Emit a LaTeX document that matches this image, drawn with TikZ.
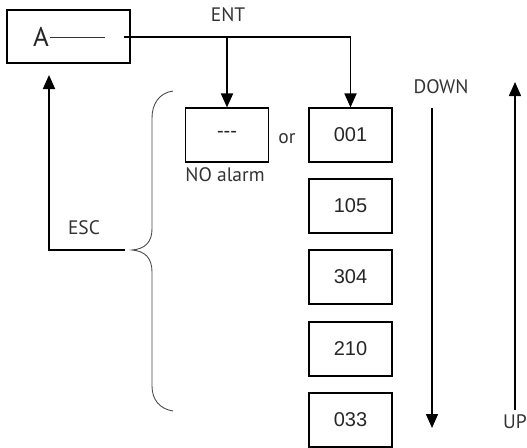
\documentclass[tikz,border=0pt]{standalone}
\usepackage{fontspec}
\setmainfont{PT Sans}
\newfontfamily\numfont{Liberation Sans}
\usetikzlibrary{arrows.meta}
\tikzset{
  box/.style={draw=black, line width=1.1pt, minimum width=83pt, minimum height=54pt, inner sep=0pt, text=black!85},
  numbox/.style={box, font=\numfont\fontsize{20}{22}\selectfont},
  lbl/.style={font=\fontsize{19.5}{21}\selectfont, text=black!80, inner sep=0pt},
  conn/.style={line width=1.8pt},
  arr/.style={conn, -{Triangle[width=12pt,length=14pt]}},
  brace/.style={draw=black!70, line width=0.9pt}
}
\begin{document}
\begin{tikzpicture}[x=1pt,y=-1pt]
\useasboundingbox (0,0) rectangle (527,447);
% box A
\node[box, minimum width=123pt, minimum height=53pt] (a) at (68.5,36.5) {};
\node[font=\fontsize{27}{29}\selectfont, text=black!85, inner sep=0pt] (atext) at (41,37) {A};
\coordinate (aline1) at (50,37);
\coordinate (aline2) at (105,37);
\draw[line width=0.9pt, black!80] (aline1) -- (aline2);
% boxes
\node[box] (none) at (227,135) {};
\node[font=\numfont\fontsize{20}{22}\selectfont, text=black!85, inner sep=0pt] (dashes) at (227,134) {---};
\node[numbox] (b001) at (350.5,135) {001};
\node[numbox] (b105) at (350.5,206) {105};
\node[numbox] (b304) at (350.5,277) {304};
\node[numbox] (b210) at (350.5,349) {210};
\node[numbox] (b033) at (350.5,420) {033};
% labels
\node[lbl] (ent) at (228,15) {ENT};
\node[lbl] (or) at (287,139) {or};
\node[lbl] (noalarm) at (225,175) {NO alarm};
\node[lbl] (esc) at (84,228) {ESC};
\node[lbl] (down) at (441,87) {DOWN};
\node[lbl] (up) at (515,422) {UP};
% ENT connectors
\coordinate (entstart) at (124,37);
\draw[arr] (entstart) -| (b001.north);
\draw[arr] (none.north |- entstart) -- (none.north);
% ESC connector
\coordinate (escstart) at (125,250);
\coordinate (escend) at (49,75);
\draw[arr] (escstart) -| (escend);
% DOWN / UP arrows
\coordinate (downstart) at (432,108);
\coordinate (downend) at (432,428);
\draw[line width=1.5pt, -{Triangle[width=12pt,length=14pt]}] (downstart) -- (downend);
\coordinate (upstart) at (515,410);
\coordinate (upend) at (515,82);
\draw[line width=1.5pt, -{Triangle[width=12pt,length=14pt]}] (upstart) -- (upend);
% brace
\draw[brace] (173,91) .. controls (159,93) and (152,104) .. (152,118)
  -- (152,229) .. controls (152,242) and (145,249) .. (132,250)
  .. controls (145,251) and (152,258) .. (152,272)
  -- (152,386) .. controls (152,400) and (160,409) .. (173,411);
\end{tikzpicture}
\end{document}
